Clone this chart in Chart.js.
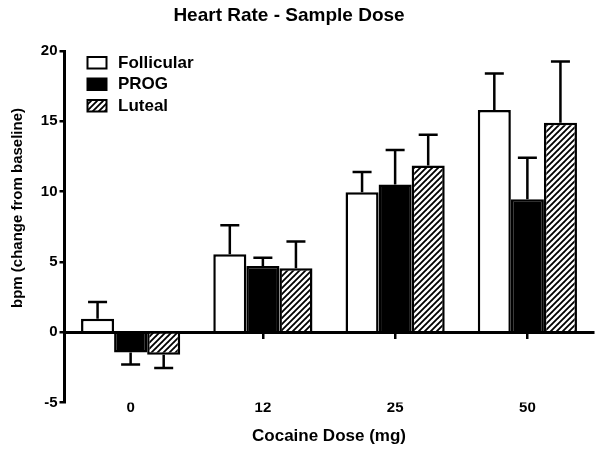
<!DOCTYPE html>
<html><head><meta charset="utf-8">
<script src="https://cdn.jsdelivr.net/npm/chart.js@4.4.0/dist/chart.umd.min.js"></script>
<style>html,body{margin:0;padding:0;background:#fff}#wrap{width:600px;height:454px;position:relative}</style>
</head><body><div id="wrap"><canvas id="c" width="600" height="454"></canvas></div>
<script>
const doses = ['0', '12', '25', '50'];
const seriesNames = ['Follicular', 'PROG', 'Luteal'];
const follicular = [0.95, 5.55, 9.95, 15.8];
const follicularErr = [1.2, 2.05, 1.45, 2.6];
const prog = [-1.45, 4.7, 10.5, 9.45];
const progErr = [0.85, 0.6, 2.45, 2.95];
const luteal = [-1.6, 4.55, 11.85, 14.9];
const lutealErr = [0.95, 1.9, 2.2, 4.35];
const yTicks = [-5, 0, 5, 10, 15, 20];
const chartTitle = 'Heart Rate - Sample Dose';
const xTitle = 'Cocaine Dose (mg)';
const yTitle = 'bpm (change from baseline)';

const FONT = '"Liberation Sans", Arial, Helvetica, sans-serif';
const canvas = document.getElementById('c');
const ctx0 = canvas.getContext('2d');

function hatch() {
  const s = 6;
  const c = document.createElement('canvas');
  c.width = s; c.height = s;
  const g = c.getContext('2d');
  g.fillStyle = '#fff'; g.fillRect(0, 0, s, s);
  g.strokeStyle = '#000'; g.lineWidth = 1.8; g.lineCap = 'square';
  g.beginPath();
  g.moveTo(0, s); g.lineTo(s, 0);
  g.moveTo(-s, s); g.lineTo(s - s, 0); g.lineTo(0, 0);
  g.moveTo(-s / 2, s / 2); g.lineTo(s / 2, -s / 2);
  g.moveTo(s / 2, s * 1.5); g.lineTo(s * 1.5, s / 2);
  g.stroke();
  return ctx0.createPattern(c, 'repeat');
}
const hatchPattern = hatch();

const errPlugin = {
  id: 'errbars',
  afterDatasetsDraw(chart) {
    const ctx = chart.ctx, ys = chart.scales.y;
    chart.data.datasets.forEach((ds, i) => {
      const meta = chart.getDatasetMeta(i);
      meta.data.forEach((bar, j) => {
        const v = ds.data[j], e = ds.errorBars[j];
        const end = ys.getPixelForValue(v >= 0 ? v + e : v - e);
        ctx.save();
        ctx.strokeStyle = '#000'; ctx.lineWidth = 2.5;
        ctx.beginPath();
        ctx.moveTo(bar.x, bar.y); ctx.lineTo(bar.x, end);
        ctx.moveTo(bar.x - 9.5, end); ctx.lineTo(bar.x + 9.5, end);
        ctx.stroke();
        ctx.restore();
      });
    });
  }
};

const textPlugin = {
  id: 'texts',
  afterDraw(chart) {
    const ctx = chart.ctx, a = chart.chartArea;
    ctx.save();
    // title
    ctx.fillStyle = '#000';
    ctx.font = 'bold 19px ' + FONT;
    ctx.textAlign = 'center'; ctx.textBaseline = 'middle';
    ctx.fillText(chartTitle, 289, 16);
    // y title
    ctx.save();
    ctx.translate(17.5, 208);
    ctx.rotate(-Math.PI / 2);
    ctx.font = 'bold 15px ' + FONT;
    ctx.fillText(yTitle, 0, 0);
    ctx.restore();
    // legend
    ctx.font = 'bold 17px ' + FONT;
    ctx.textAlign = 'left';
    chart.data.datasets.forEach((ds, i) => {
      const y = a.top + 6 + i * 21.5;
      const x = a.left + 23;
      ctx.fillStyle = ds.backgroundColor;
      ctx.fillRect(x, y, 19, 11.5);
      ctx.lineWidth = 2; ctx.strokeStyle = '#000';
      ctx.strokeRect(x, y, 19, 11.5);
      ctx.fillStyle = '#000';
      ctx.fillText(ds.label, a.left + 53.5, y + 6);
    });
    ctx.restore();
  }
};

const mk = (label, data, err, bg) => ({
  label, data, errorBars: err, backgroundColor: bg,
  borderColor: '#000', borderWidth: 2.5, borderSkipped: 'start',
  categoryPercentage: 0.75, barPercentage: 1.0
});

new Chart(canvas, {
  type: 'bar',
  data: {
    labels: doses,
    datasets: [
      mk(seriesNames[0], follicular, follicularErr, '#ffffff'),
      mk(seriesNames[1], prog, progErr, '#000000'),
      mk(seriesNames[2], luteal, lutealErr, hatchPattern)
    ]
  },
  options: {
    responsive: false,
    animation: false,
    devicePixelRatio: 1,
    layout: { padding: { top: 51, right: 6.5, bottom: 0, left: 0 } },
    plugins: { legend: { display: false }, title: { display: false }, tooltip: { enabled: false } },
    scales: {
      x: {
        offset: true,
        grid: { display: false, drawTicks: false },
        border: { display: false },
        ticks: { color: '#000', font: { family: FONT, size: 15, weight: 'bold' }, padding: -3.5, maxRotation: 0 },
        title: { display: true, text: xTitle, color: '#000', font: { family: FONT, size: 17, weight: 'bold' }, padding: { top: 0, bottom: 7 } },
        afterFit: s => { s.height = 51.5; }
      },
      x2: {
        type: 'category', axis: 'x', position: { y: 0 }, offset: true, z: 1,
        grid: { display: true, offset: false, drawOnChartArea: false, drawTicks: true, tickLength: 5, color: '#000', lineWidth: 2.5 },
        border: { display: true, color: '#000', width: 3 },
        ticks: { display: false }
      },
      y: {
        min: -5, max: 20,
        afterBuildTicks: s => { s.ticks = yTicks.map(v => ({ value: v })); },
        border: { display: true, color: '#000', width: 3 },
        grid: { display: true, drawOnChartArea: false, drawTicks: true, tickLength: 5, color: '#000', lineWidth: 2.5 },
        ticks: { color: '#000', font: { family: FONT, size: 15, weight: 'bold' }, padding: 2 },
        afterFit: s => { s.width = 64.5; }
      }
    }
  },
  plugins: [errPlugin, textPlugin]
});
</script>
</body></html>
